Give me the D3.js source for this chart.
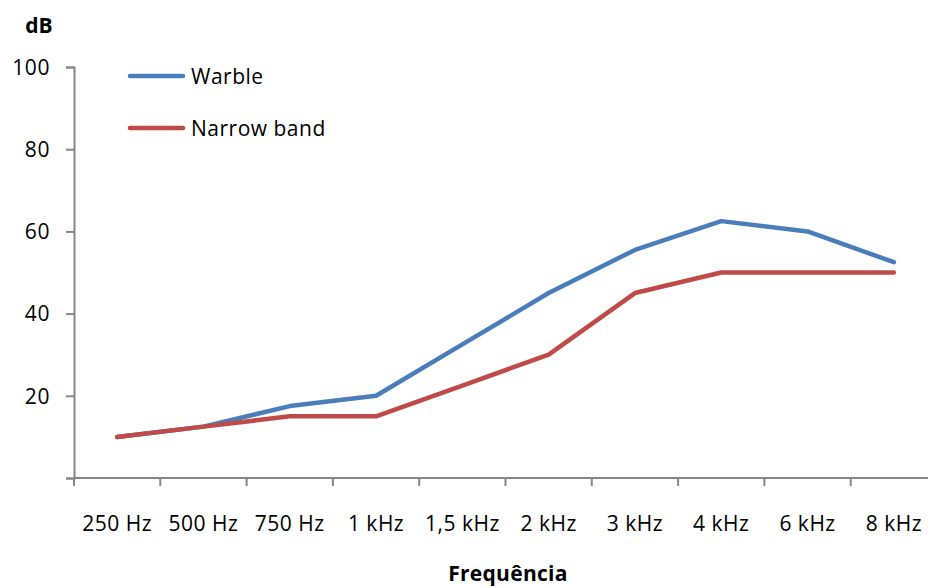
<!DOCTYPE html>
<html>
<head>
<meta charset="utf-8">
<script src="https://cdn.jsdelivr.net/npm/d3@7"></script>
<style>
  html, body { margin: 0; padding: 0; background: #fff; }
  svg { display: block; }
  text { font-family: "Open Sans", sans-serif; fill: #000; }
</style>
</head>
<body>
<svg id="chart" width="928" height="587"></svg>
<script>
const categories = ["250 Hz", "500 Hz", "750 Hz", "1 kHz", "1,5 kHz", "2 kHz", "3 kHz", "4 kHz", "6 kHz", "8 kHz"];
const warble = [10, 12.5, 17.5, 20, 32.5, 45, 55.5, 62.5, 60, 52.5];
const narrowBand = [10, 12.5, 15, 15, 22.5, 30, 45, 50, 50, 50];
const seriesNames = ["Warble", "Narrow band"];
const yTicks = [0, 20, 40, 60, 80, 100];

const series = [
  { name: seriesNames[0], values: warble, color: "#4A7EBB" },
  { name: seriesNames[1], values: narrowBand, color: "#BE4B48" }
];

const svg = d3.select("#chart");
const mLeft = 74, mTop = 67, mBottom = 478;
const step = 86.3;
const axisColor = "#868686";

const x = d3.scaleBand().domain(categories).range([mLeft, mLeft + step * categories.length]).padding(0);
const y = d3.scaleLinear().domain([0, 100]).range([mBottom, mTop]);

// Y axis
const yAxis = svg.append("g").attr("transform", `translate(${mLeft},0)`)
  .call(d3.axisLeft(y).tickValues(yTicks).tickSize(8).tickPadding(16)
    .tickFormat(d => d === 0 ? "" : d));
yAxis.select(".domain").attr("stroke", axisColor).attr("stroke-width", 2);
yAxis.selectAll(".tick line").attr("stroke", axisColor).attr("stroke-width", 2);
yAxis.selectAll(".tick text").style("font-size", "21px").attr("dy", "0.35em").attr("letter-spacing", "0.6px");

// X axis (labels only from axis, boundary ticks drawn separately)
const xAxis = svg.append("g").attr("transform", `translate(0,${mBottom})`)
  .call(d3.axisBottom(x).tickSize(0).tickPadding(38));
xAxis.select(".domain").remove();
xAxis.selectAll(".tick text").style("font-size", "21px").attr("letter-spacing", "0.5px");

svg.append("line")
  .attr("x1", mLeft).attr("x2", 928).attr("y1", mBottom).attr("y2", mBottom)
  .attr("stroke", axisColor).attr("stroke-width", 2);

const boundaries = categories.map(c => x(c));
svg.append("g").selectAll("line").data(boundaries).join("line")
  .attr("x1", d => d).attr("x2", d => d)
  .attr("y1", mBottom).attr("y2", mBottom + 8)
  .attr("stroke", axisColor).attr("stroke-width", 2);

// Lines
const line = d3.line()
  .x((d, i) => x(categories[i]) + x.bandwidth() / 2)
  .y(d => y(d));

svg.append("g").selectAll("path").data(series).join("path")
  .attr("d", d => line(d.values))
  .attr("fill", "none")
  .attr("stroke", d => d.color)
  .attr("stroke-width", 4.5)
  .attr("stroke-linecap", "round")
  .attr("stroke-linejoin", "round");

// Legend
const legend = svg.append("g").selectAll("g").data(series).join("g")
  .attr("transform", (d, i) => `translate(130,${76 + i * 52})`);
legend.append("line")
  .attr("x1", 0).attr("x2", 53).attr("y1", 0).attr("y2", 0)
  .attr("stroke", d => d.color).attr("stroke-width", 4.5).attr("stroke-linecap", "round");
legend.append("text")
  .attr("x", 61).attr("y", 0).attr("dy", "0.36em")
  .style("font-size", "21px").attr("letter-spacing", "0.5px")
  .text(d => d.name);

// Axis titles
svg.append("text").attr("x", 39).attr("y", 33).attr("text-anchor", "middle")
  .style("font-size", "21px").style("font-weight", "bold").text("dB");
svg.append("text").attr("x", 508).attr("y", 581).attr("text-anchor", "middle")
  .style("font-size", "21px").style("font-weight", "bold").attr("letter-spacing", "0.3px").text("Frequência");
</script>
</body>
</html>
